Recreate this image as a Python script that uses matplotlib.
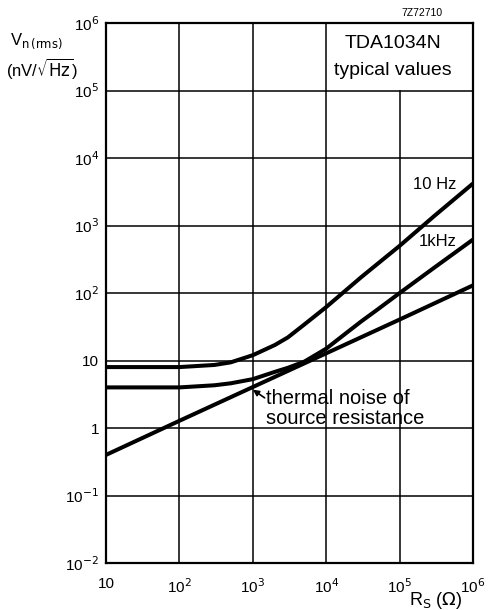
import numpy as np
from matplotlib import pyplot as plt

plt.rcParams['font.family'] = ['Liberation Sans', 'DejaVu Sans']
plt.rcParams['mathtext.fontset'] = 'dejavusans'

# curves (Rs in ohm, Vn in nV/sqrt(Hz))
rs_10hz = [10, 100, 300, 500, 1e3, 2e3, 3e3, 5e3, 1e4, 2e4, 3e4, 1e5, 3e5, 1e6]
vn_10hz = [8.0, 8.0, 8.6, 9.4, 12.0, 17, 22, 34, 62, 118, 172, 500, 1400, 4200]

rs_1khz = [10, 100, 300, 500, 1e3, 2e3, 3e3, 5e3, 1e4, 2e4, 3e4, 5e4, 1e5, 3e5, 1e6]
vn_1khz = [4.0, 4.0, 4.3, 4.6, 5.3, 6.8, 7.8, 9.6, 15, 27, 38, 57, 100, 240, 620]

rs_thermal = [10, 100, 1e3, 1e4, 1e5, 1e6]
vn_thermal = [0.4, 1.28, 4.05, 12.8, 40.5, 130]

xticks = [10, 1e2, 1e3, 1e4, 1e5, 1e6]
xlabels = ['10', r'10$^2$', r'10$^3$', r'10$^4$', r'10$^5$', r'10$^6$']
yticks = [1e-2, 1e-1, 1, 10, 1e2, 1e3, 1e4, 1e5, 1e6]
ylabels = [r'10$^{-2}$', r'10$^{-1}$', '1', '10', r'10$^2$', r'10$^3$',
           r'10$^4$', r'10$^5$', r'10$^6$']

fig = plt.figure(figsize=(4.89, 6.10), dpi=100)
ax = fig.add_axes([0.2168, 0.077, 0.7505, 0.8852])
ax.set_xscale('log')
ax.set_yscale('log')
ax.set_xlim(10, 1e6)
ax.set_ylim(1e-2, 1e6)

# grid drawn by hand: the 1e5 vertical stops under the title box
for x in xticks[1:-1]:
    ytop = 1e5 if x == 1e5 else 1e6
    ax.plot([x, x], [1e-2, ytop], color='black', lw=1.1, zorder=1)
for y in yticks[1:-1]:
    ax.plot([10, 1e6], [y, y], color='black', lw=1.1, zorder=1)

for rs, vn in [(rs_10hz, vn_10hz), (rs_1khz, vn_1khz), (rs_thermal, vn_thermal)]:
    ax.plot(rs, vn, color='black', lw=2.9, solid_capstyle='butt',
            solid_joinstyle='round', zorder=3)

for s in ax.spines.values():
    s.set_linewidth(1.6)

ax.set_xticks(xticks)
ax.set_xticklabels(xlabels, fontsize=11)
ax.set_yticks(yticks)
ax.set_yticklabels(ylabels, fontsize=11)
ax.minorticks_off()
ax.tick_params(length=0, pad=5)
ax.tick_params(axis='x', pad=10)

ax.text(8.1e4, 5.0e5, 'TDA1034N', ha='center', va='center', fontsize=14)
ax.text(8.1e4, 2.0e5, 'typical values', ha='center', va='center', fontsize=14)
ax.text(6.0e5, 4.1e3, '10 Hz', ha='right', va='center', fontsize=12)
ax.text(6.0e5, 5.9e2, '1kHz', ha='right', va='center', fontsize=12)

ax.annotate('', xy=(1.0e3, 3.7), xytext=(1.45e3, 2.8),
            arrowprops=dict(arrowstyle='-|>', color='black', lw=1.2,
                            shrinkA=0, shrinkB=0, mutation_scale=9))
ax.text(1.52e3, 2.75, 'thermal noise of', ha='left', va='center', fontsize=14.5)
ax.text(1.52e3, 1.38, 'source resistance', ha='left', va='center', fontsize=14.5)

fig.text(0.862, 0.979, '7Z72710', ha='center', va='center', fontsize=7.5)
fig.text(0.075, 0.932, r'V$_{\mathrm{n\,(rms)}}$', ha='center', va='center', fontsize=12)
fig.text(0.085, 0.887, r'(nV/$\sqrt{\mathrm{Hz}}$)', ha='center', va='center', fontsize=12)
fig.text(0.89, 0.016, r'R$_{\mathrm{S}}$ ($\Omega$)', ha='center', va='center', fontsize=13)

fig.savefig('out.png', dpi=100)
